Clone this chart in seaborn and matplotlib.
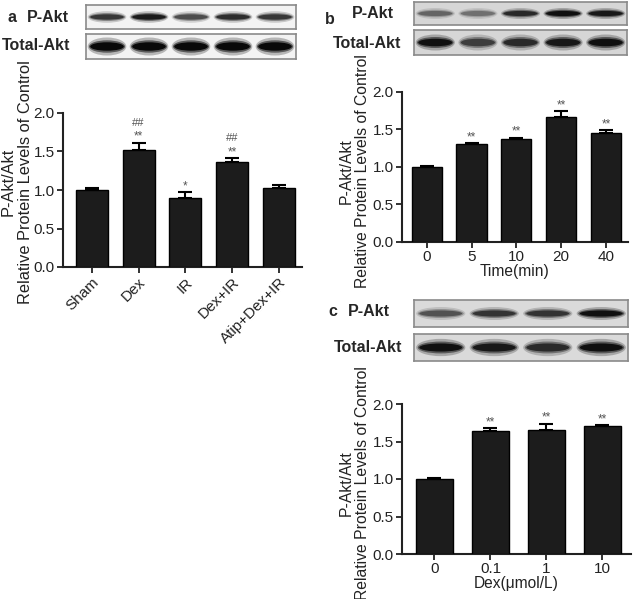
import numpy as np
import pandas as pd
import matplotlib
matplotlib.use('Agg')
import matplotlib.pyplot as plt
from matplotlib.patches import Ellipse
import seaborn as sns

# data
groups_a = ['Sham', 'Dex', 'IR', 'Dex+IR', 'Atip+Dex+IR']
means_a = [1.00, 1.52, 0.90, 1.37, 1.03]
errs_a = [0.02, 0.09, 0.07, 0.04, 0.04]
stars_a = ['', '**', '*', '**', '']
hashes_a = ['', '##', '', '##', '']

times_b = ['0', '5', '10', '20', '40']
means_b = [1.00, 1.31, 1.37, 1.67, 1.45]
errs_b = [0.01, 0.01, 0.02, 0.07, 0.04]
stars_b = ['', '**', '**', '**', '**']

doses_c = ['0', '0.1', '1', '10']
means_c = [1.00, 1.64, 1.65, 1.71]
errs_c = [0.02, 0.04, 0.09, 0.01]
stars_c = ['', '**', '**', '**']

# blot band darkness per lane
blot_a_p = [0.75, 0.9, 0.65, 0.8, 0.75]
blot_a_t = [1.0, 1.0, 1.0, 1.0, 1.0]
blot_b_p = [0.5, 0.45, 0.8, 0.95, 0.9]
blot_b_t = [0.95, 0.7, 0.8, 0.9, 0.95]
blot_c_p = [0.6, 0.75, 0.75, 0.95]
blot_c_t = [0.95, 0.9, 0.8, 0.95]

sns.set_theme(style='ticks')
plt.rcParams['font.family'] = ['Liberation Sans', 'DejaVu Sans']

W, H = 638, 599
fig = plt.figure(figsize=(W / 100, H / 100), dpi=100)


def px_axes(x0, y0, x1, y1):
    return fig.add_axes([x0 / W, 1 - y1 / H, (x1 - x0) / W, (y1 - y0) / H])


def blot(box, levels, bg, thick):
    ax = px_axes(*box)
    n = len(levels)
    ax.set_xlim(0, n)
    ax.set_ylim(0, 1)
    ax.set_facecolor(bg)
    for s in ax.spines.values():
        s.set_color('#8a8a8a')
        s.set_linewidth(1.2)
    ax.set_xticks([])
    ax.set_yticks([])
    for i, lv in enumerate(levels):
        g = 1 - lv
        for sw, sh, al in [(0.92, 1.6, 0.25), (0.86, 1.1, 0.5), (0.8, 0.75, 0.9)]:
            ax.add_patch(Ellipse((i + 0.5, 0.5), sw, thick * sh,
                                 color=(g * 0.3, g * 0.3, g * 0.3), alpha=al * lv, lw=0))
    return ax


def bars(ax, labels, means, errs, width):
    df = pd.DataFrame({'group': labels, 'value': means})
    sns.barplot(data=df, x='group', y='value', order=labels, color='#1c1c1c',
                edgecolor='black', linewidth=1, width=width, saturation=1,
                errorbar=None, ax=ax, zorder=3)
    x = np.arange(len(labels))
    ax.errorbar(x, means, yerr=[np.zeros(len(errs)), errs], fmt='none',
                ecolor='black', elinewidth=1.5, capsize=5, capthick=1.5, zorder=2)
    ax.set_ylim(0, 2.0)
    ax.set_yticks([0.0, 0.5, 1.0, 1.5, 2.0])
    ax.set_yticklabels(['0.0', '0.5', '1.0', '1.5', '2.0'])
    ax.set_xlabel('')
    ax.set_ylabel('')
    sns.despine(ax=ax)
    for s in ['left', 'bottom']:
        ax.spines[s].set_linewidth(1.5)
        ax.spines[s].set_color('#222222')
    ax.tick_params(axis='both', direction='out', length=4, width=1.3,
                   color='#222222', labelsize=11, pad=2, labelcolor='#222222')


def marks(ax, means, errs, stars, hashes=None):
    for i, (m, e, s) in enumerate(zip(means, errs, stars)):
        if s:
            ax.text(i, m + e + 0.08, s, ha='center', va='center', fontsize=8.5, color='#555555')
        if hashes and hashes[i]:
            ax.text(i, m + e + 0.26, hashes[i], ha='center', va='center', fontsize=8, color='#555555')


ylab = 'P-Akt/Akt\nRelative Protein Levels of Control'

# ---- panel a
blot((86, 5, 296, 29), blot_a_p, '#f3f3f3', 0.3)
blot((86, 34, 296, 59), blot_a_t, '#f3f3f3', 0.45)
fig.text(8 / W, 1 - 18 / H, 'a', fontsize=11.5, fontweight='bold', va='center', ha='left')
fig.text(27 / W, 1 - 18 / H, 'P-Akt', fontsize=11.5, fontweight='bold', va='center', ha='left')
fig.text(2 / W, 1 - 46 / H, 'Total-Akt', fontsize=11.5, fontweight='bold', va='center', ha='left')

ax_a = px_axes(63, 113, 302, 267)
bars(ax_a, groups_a, means_a, errs_a, 0.69)
ax_a.set_xlim(-0.62, 4.5)
plt.setp(ax_a.get_xticklabels(), rotation=45, ha='right', rotation_mode='anchor')
marks(ax_a, means_a, errs_a, stars_a, hashes_a)
fig.text(17 / W, 1 - 182 / H, ylab, rotation=90, ha='center', va='center',
         fontsize=11.8, color='#222222', linespacing=1.15)

# ---- panel b
blot((414, 2, 627, 25), blot_b_p, '#d6d6d6', 0.3)
blot((414, 30, 627, 55), blot_b_t, '#d6d6d6', 0.4)
fig.text(325 / W, 1 - 19 / H, 'b', fontsize=11.5, fontweight='bold', va='center', ha='left')
fig.text(352 / W, 1 - 14 / H, 'P-Akt', fontsize=11.5, fontweight='bold', va='center', ha='left')
fig.text(333 / W, 1 - 43 / H, 'Total-Akt', fontsize=11.5, fontweight='bold', va='center', ha='left')

ax_b = px_axes(402, 92, 628, 242)
bars(ax_b, times_b, means_b, errs_b, 0.67)
ax_b.set_xlim(-0.55, 4.49)
ax_b.set_xlabel('Time(min)', fontsize=11.2, color='#222222', labelpad=0)
marks(ax_b, means_b, errs_b, stars_b)
fig.text(354 / W, 1 - 171 / H, ylab, rotation=90, ha='center', va='center',
         fontsize=11.3, color='#222222', linespacing=1.1)

# ---- panel c
blot((414, 300, 628, 327), blot_c_p, '#dadada', 0.3)
blot((414, 334, 628, 361), blot_c_t, '#dadada', 0.4)
fig.text(328 / W, 1 - 311 / H, 'c', fontsize=11.5, fontweight='bold', va='center', ha='left')
fig.text(348 / W, 1 - 311 / H, 'P-Akt', fontsize=11.5, fontweight='bold', va='center', ha='left')
fig.text(334 / W, 1 - 347 / H, 'Total-Akt', fontsize=11.5, fontweight='bold', va='center', ha='left')

ax_c = px_axes(402, 404, 631, 554)
bars(ax_c, doses_c, means_c, errs_c, 0.66)
ax_c.set_xlim(-0.58, 3.51)
ax_c.set_xlabel('Dex(μmol/L)', fontsize=11.2, color='#222222', labelpad=0)
marks(ax_c, means_c, errs_c, stars_c)
fig.text(354 / W, 1 - 483 / H, ylab, rotation=90, ha='center', va='center',
         fontsize=11.3, color='#222222', linespacing=1.1)

fig.savefig('out.png', dpi=100, facecolor='white')
